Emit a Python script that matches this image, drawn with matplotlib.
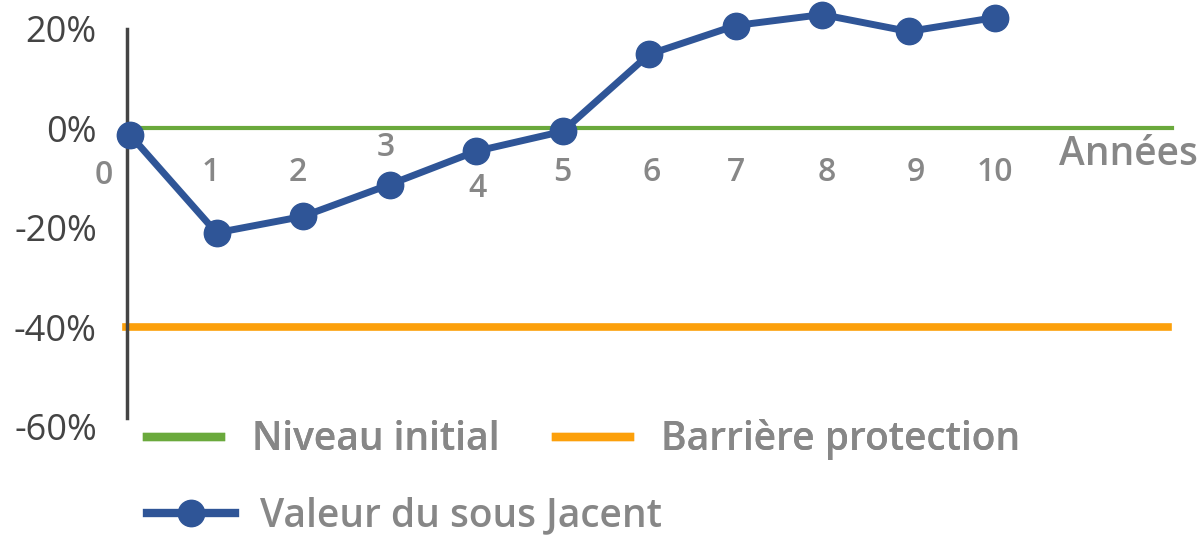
"""
Courbe de valeur du sous-jacent vs niveau initial et barrière de protection.
"""

import matplotlib.pyplot as plt
from matplotlib.lines import Line2D

# données
annees = [0, 1, 2, 3, 4, 5, 6, 7, 8, 9, 10]
valeur_sous_jacent = [-0.013, -0.21, -0.177, -0.113, -0.046, -0.006, 0.149, 0.207, 0.229, 0.195, 0.223]
niveau_initial = [0.0, 0.0]
niveau_initial_x = [0, 12.05]
barriere = [-0.40, -0.40]
barriere_x = [-0.05, 12.0]
yticks = [0.2, 0.0, -0.2, -0.4, -0.6]
ytick_labels = ["20%", "0%", "-20%", "-40%", "-60%"]
xtick_labels = [str(a) for a in annees]
# décalage des étiquettes d'années (en points)
xlabel_dy = [-34, -32, -32, -14, -43, -32, -32, -32, -32, -32, -32]
xlabel_dx = [-19, -4, -4, -3, 1, 0, 2, 0, 3, 5, 0]

GREEN = "#6aa93c"
ORANGE = "#fca00b"
BLUE = "#2f5597"
AXIS = "#444444"
GREY = "#878787"
FONT = "Open Sans"
WEIGHT = 600


def main() -> None:
    fig = plt.figure(figsize=(12.01, 5.41), dpi=100)
    ax = fig.add_axes([0, 0, 1, 1])
    ax.set_xlim(-1.503, 12.38)
    ax.set_ylim(-0.830, 0.2583)

    ax.plot(niveau_initial_x, niveau_initial, color=GREEN, lw=3, zorder=2)
    ax.plot(barriere_x, barriere, color=ORANGE, lw=5.5, zorder=2)
    ax.plot(annees, valeur_sous_jacent, color=BLUE, lw=5, marker="o", ms=19, zorder=4)

    for s in ["top", "right", "bottom"]:
        ax.spines[s].set_visible(False)
    ax.spines["left"].set_position(("data", -0.03))
    ax.spines["left"].set_bounds(-0.583, 0.2)
    ax.spines["left"].set_color(AXIS)
    ax.spines["left"].set_linewidth(2.5)
    ax.spines["left"].set_zorder(3)
    ax.set_xticks([])
    ax.set_yticks(yticks)
    ax.set_yticklabels(ytick_labels, fontsize=26, color=AXIS, family=FONT, weight=500)
    ax.tick_params(axis="y", length=0, pad=22)

    for a, lab, dy, dx in zip(annees, xtick_labels, xlabel_dy, xlabel_dx):
        ax.annotate(lab, (a, 0), xytext=(dx, dy), textcoords="offset points",
                    ha="center", va="center", fontsize=23, color=GREY,
                    family=FONT, weight=WEIGHT)
    ax.annotate("Années", (12.38, 0), xytext=(-2, -19), textcoords="offset points",
                ha="right", va="center", fontsize=28, color=GREY, family=FONT, weight=WEIGHT)

    prop = {"family": FONT, "size": 28, "weight": WEIGHT}
    handles = [Line2D([], [], color=GREEN, lw=6),
               Line2D([], [], color=ORANGE, lw=6)]
    leg1 = fig.legend(handles, ["Niveau initial", "Barrière protection"], ncol=2,
                      loc="center left", bbox_to_anchor=(0.106, 0.187), frameon=False,
                      borderpad=0, handlelength=1.9, handletextpad=0.8, columnspacing=1.45,
                      prop=prop)
    for t in leg1.get_texts():
        t.set_color(GREY)
    fig.add_artist(leg1)
    h3 = [Line2D([], [], color=BLUE, lw=6, marker="o", ms=19)]
    leg2 = fig.legend(h3, ["Valeur du sous Jacent"], loc="center left",
                      bbox_to_anchor=(0.1065, 0.046), frameon=False, borderpad=0,
                      handlelength=2.25, handletextpad=0.65, prop=prop)
    for t in leg2.get_texts():
        t.set_color(GREY)

    fig.savefig("out.png", dpi=100)
    plt.close(fig)


if __name__ == "__main__":
    main()
